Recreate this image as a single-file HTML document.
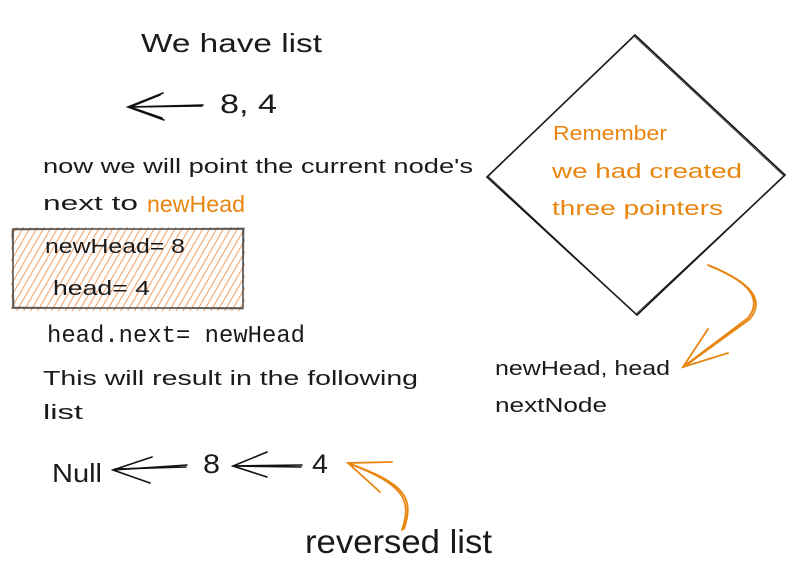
<!DOCTYPE html>
<html><head><meta charset="utf-8"><style>
html,body{margin:0;padding:0;background:#fff;}
svg{display:block;}
text{font-family:"Liberation Sans",sans-serif;fill:#1b1b1b;}
.o{fill:#e8850f;}
.m{font-family:"Liberation Mono",monospace;}
</style></head><body>
<svg width="800" height="580" viewBox="0 0 800 580" xmlns="http://www.w3.org/2000/svg">
<defs>
<pattern id="h" width="6" height="12" patternUnits="userSpaceOnUse" patternTransform="rotate(30)">
<line x1="2" y1="0" x2="2" y2="12" stroke="#f2a56c" stroke-width="1.1"/>
</pattern>
</defs>
<rect width="800" height="580" fill="#fff"/>

<!-- hatched box -->
<rect x="11" y="227" width="234" height="84" fill="url(#h)"/>
<rect x="13" y="229" width="230" height="79" fill="none" stroke="#4a4a4a" stroke-width="1.6"/>
<path d="M12 230 L244 228 L243 309 L14 307 Z" fill="none" stroke="#666" stroke-width="0.8"/>

<!-- diamond -->
<path d="M635 35 L785 175 L637 315 L487 177 Z" fill="none" stroke="#111" stroke-width="1.6" stroke-linejoin="round"/>
<path d="M634 36 L784 176 L636 314 L488 176 Z" fill="none" stroke="#222" stroke-width="0.8"/>

<!-- top arrow -->
<g stroke="#111" stroke-width="1.6" fill="none" stroke-linecap="round">
<path d="M203 105 L128 107"/>
<path d="M202 106 L130 107"/>
<path d="M163 93 L128 107 L164 120"/>
<path d="M160 95 L130 107 L162 118"/>
</g>

<!-- bottom arrows -->
<g stroke="#111" stroke-width="1.6" fill="none" stroke-linecap="round">
<path d="M187 465 L113 470"/>
<path d="M186 467 L115 469"/>
<path d="M152 457 L113 470 L150 483"/>
<path d="M302 465 L233 466"/>
<path d="M301 467 L235 466"/>
<path d="M267 452 L233 466 L267 477"/>
</g>

<!-- orange arrows -->
<g stroke="#e8850f" stroke-width="1.8" fill="none" stroke-linecap="round">
<path d="M402 530 C 412 500, 405 485, 348 463"/>
<path d="M404 529 C 414 499, 407 484, 350 464"/>
<path d="M392 462 L348 463 L380 492"/>
<path d="M708 265 C 740 278, 766 295, 748 318 L 683 367"/>
<path d="M710 266 C 742 279, 768 296, 750 319 L 685 366"/>
<path d="M708 329 L683 367 L728 353"/>
</g>

<!-- texts -->
<text x="141" y="52" font-size="26" textLength="181" lengthAdjust="spacingAndGlyphs">We have list</text>
<text x="220" y="113" font-size="27" textLength="57" lengthAdjust="spacingAndGlyphs">8, 4</text>
<text x="43" y="173" font-size="20" textLength="430" lengthAdjust="spacingAndGlyphs">now we will point the current node's</text>
<text x="43" y="210" font-size="20" textLength="95" lengthAdjust="spacingAndGlyphs">next to</text>
<text class="o" x="147" y="212" font-size="23" textLength="98" lengthAdjust="spacingAndGlyphs">newHead</text>
<text x="45" y="253" font-size="20" textLength="140" lengthAdjust="spacingAndGlyphs">newHead= 8</text>
<text x="53" y="295" font-size="20" textLength="97" lengthAdjust="spacingAndGlyphs">head= 4</text>
<text class="m" x="47" y="342" font-size="24" textLength="258" lengthAdjust="spacingAndGlyphs">head.next= newHead</text>
<text x="43" y="385" font-size="20" textLength="375" lengthAdjust="spacingAndGlyphs">This will result in the following</text>
<text x="43" y="419" font-size="20" textLength="40" lengthAdjust="spacingAndGlyphs">list</text>
<text x="52" y="482" font-size="26" textLength="50" lengthAdjust="spacingAndGlyphs">Null</text>
<text x="203" y="473" font-size="27" textLength="17" lengthAdjust="spacingAndGlyphs">8</text>
<text x="312" y="473" font-size="27" textLength="16" lengthAdjust="spacingAndGlyphs">4</text>
<text x="305" y="553" font-size="33" textLength="187" lengthAdjust="spacingAndGlyphs">reversed list</text>

<text class="o" x="553" y="140" font-size="20" textLength="114" lengthAdjust="spacingAndGlyphs">Remember</text>
<text class="o" x="552" y="178" font-size="20" textLength="190" lengthAdjust="spacingAndGlyphs">we had created</text>
<text class="o" x="552" y="215" font-size="20" textLength="171" lengthAdjust="spacingAndGlyphs">three pointers</text>
<text x="495" y="375" font-size="20" textLength="175" lengthAdjust="spacingAndGlyphs">newHead, head</text>
<text x="495" y="412" font-size="20" textLength="112" lengthAdjust="spacingAndGlyphs">nextNode</text>
</svg>
</body></html>
